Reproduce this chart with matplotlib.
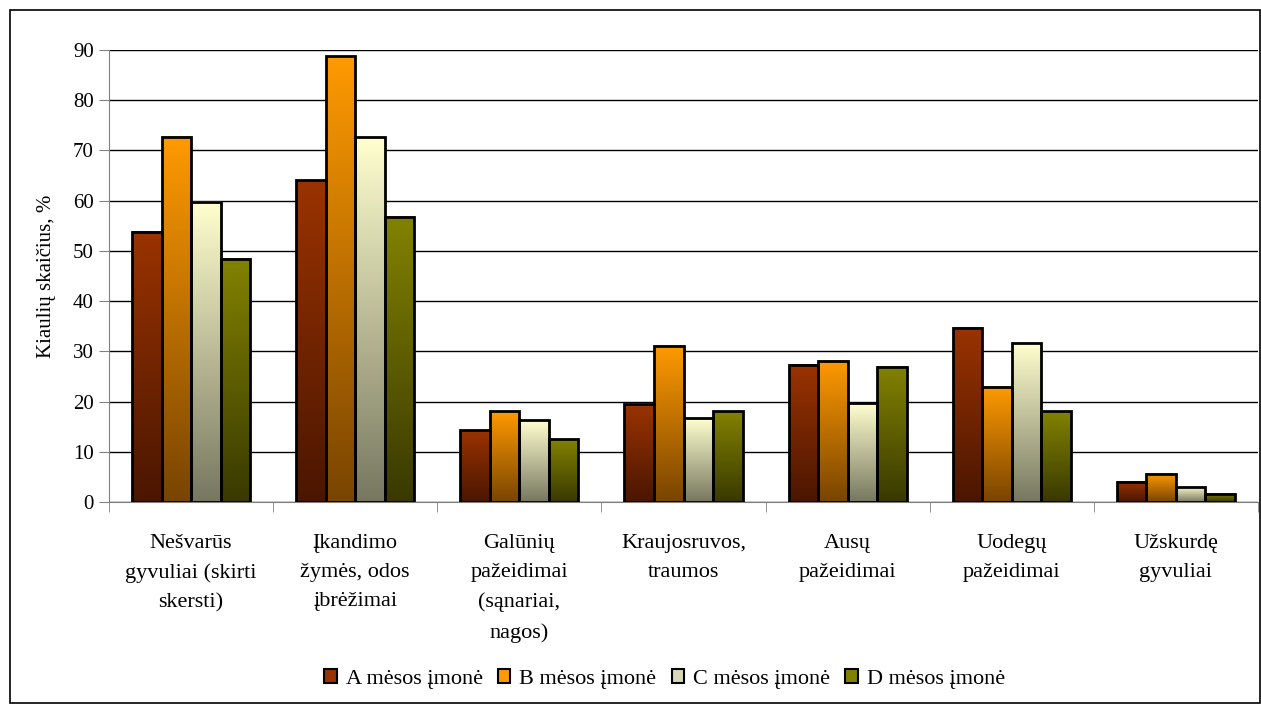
import numpy as np
import matplotlib.pyplot as plt
from matplotlib.colors import LinearSegmentedColormap
from matplotlib.patches import Patch, Rectangle

plt.rcParams['font.family'] = ['Liberation Serif', 'DejaVu Serif']

categories = ['Nešvarūs\ngyvuliai (skirti\nskersti)',
              'Įkandimo\nžymės, odos\nįbrėžimai',
              'Galūnių\npažeidimai\n(sąnariai,\nnagos)',
              'Kraujosruvos,\ntraumos',
              'Ausų\npažeidimai',
              'Uodegų\npažeidimai',
              'Užskurdę\ngyvuliai']
a_imone = [53.8, 64.1, 14.3, 19.5, 27.3, 34.7, 4.0]
b_imone = [72.7, 88.8, 18.1, 31.1, 28.1, 22.9, 5.6]
c_imone = [59.8, 72.7, 16.3, 16.7, 19.7, 31.7, 3.0]
d_imone = [48.4, 56.8, 12.5, 18.1, 26.9, 18.1, 1.6]
series_names = ['A mėsos įmonė', 'B mėsos įmonė', 'C mėsos įmonė', 'D mėsos įmonė']

# (top colour, bottom colour) for each company
grad = [('#9a3300', '#4a1600'),
        ('#ff9a00', '#784400'),
        ('#ffffcf', '#777760'),
        ('#828200', '#393900')]

fig = plt.figure(figsize=(12.61, 7.04), dpi=100)
fig.patches.append(Rectangle((10 / 1261, 1 / 704), 1250 / 1261, 693 / 704,
                             transform=fig.transFigure, fill=False,
                             edgecolor='black', linewidth=1.2))
ax = fig.add_axes([109 / 1261, 1 - 502 / 704, 1149 / 1261, 452 / 704])

x = np.arange(len(categories))
w = 0.18
ramp = np.linspace(1, 0, 256).reshape(-1, 1)
for i, vals in enumerate([a_imone, b_imone, c_imone, d_imone]):
    cmap = LinearSegmentedColormap.from_list('g%d' % i, [grad[i][1], grad[i][0]])
    pos = x + (i - 1.5) * w
    for p, v in zip(pos, vals):
        ax.imshow(ramp, extent=[p - w / 2, p + w / 2, 0, v], aspect='auto',
                  cmap=cmap, vmin=0, vmax=1, zorder=2)
    ax.bar(pos, vals, width=w, facecolor='none', edgecolor='black',
           linewidth=2, zorder=3)

ax.set_xlim(-0.5, len(categories) - 0.5)
ax.set_ylim(0, 90)
ax.set_yticks(range(0, 91, 10))
ax.yaxis.grid(True, color='black', linewidth=1)
ax.set_axisbelow(True)
ax.tick_params(axis='y', labelsize=15, length=7, color='gray', pad=4)

ax.set_xticks(x)
ax.set_xticklabels(categories, fontsize=16, linespacing=1.72, va='top')
ax.set_xticks(np.arange(-0.5, len(categories), 1), minor=True)
ax.tick_params(axis='x', which='major', length=0, pad=23)
ax.tick_params(axis='x', which='minor', length=7, color='gray')

for s in ['top', 'right']:
    ax.spines[s].set_visible(False)
ax.spines['left'].set_color('gray')
ax.spines['bottom'].set_color('gray')

ax.set_ylabel('Kiaulių skaičius, %', fontsize=15, labelpad=12)

handles = [Patch(facecolor=grad[i][0], edgecolor='black', linewidth=1.5,
                 label=series_names[i]) for i in range(4)]
handles[2] = Patch(facecolor='#d8d8b8', edgecolor='black', linewidth=1.5,
                   label=series_names[2])
fig.legend(handles=handles, loc='center', bbox_to_anchor=(0.527, 1 - 679 / 704),
           ncol=4, frameon=False, fontsize=16, handlelength=0.55, handleheight=0.55,
           handletextpad=0.4, columnspacing=0.7)

fig.savefig('out.png', dpi=100)
